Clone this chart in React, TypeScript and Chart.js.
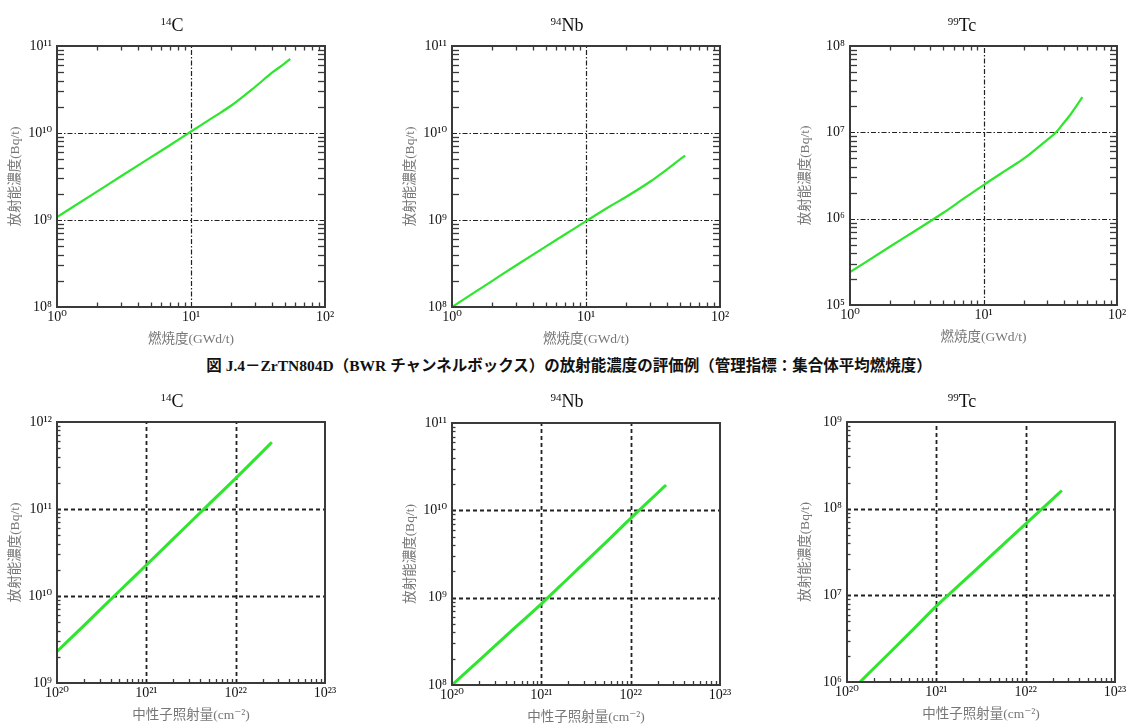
import React, { useEffect, useRef } from 'react';
import { Chart, registerables } from 'chart.js';

Chart.register(...registerables);

// ---------------- data ----------------
// top row: burnup (GWd/t)
const burnup = [1, 2, 3, 5, 7, 10, 15, 20, 30, 40, 50, 55];
const c14ByBurnup = [1.08e9, 2.13e9, 3.18e9, 5.24e9, 7.28e9, 1.04e10, 1.55e10, 2.07e10, 3.38e10, 4.9e10, 6.3e10, 7.1e10];
const nb94ByBurnup = [1.0e8, 2.0e8, 3.0e8, 4.95e8, 6.85e8, 9.7e8, 1.43e9, 1.85e9, 2.75e9, 3.8e9, 4.95e9, 5.5e9];
const burnupTc = [1, 2, 3, 5, 7, 10, 15, 20, 30, 35, 40, 45, 50, 55];
const tc99ByBurnup = [2.4e5, 4.76e5, 7.06e5, 1.17e6, 1.68e6, 2.45e6, 3.7e6, 4.95e6, 8.2e6, 1.0e7, 1.29e7, 1.62e7, 2.05e7, 2.55e7];

// bottom row: neutron fluence (cm^-2)
const fluenceC14 = [1e20, 2e20, 5e20, 1e21, 2e21, 5e21, 1e22, 2e22, 2.54e22];
const c14ByFluence = [2.3e9, 4.57e9, 1.14e10, 2.27e10, 4.53e10, 1.13e11, 2.25e11, 4.57e11, 5.85e11];
const fluenceNb = [1e20, 2e20, 5e20, 1e21, 2e21, 5e21, 1e22, 2e22, 2.49e22];
const nb94ByFluence = [1.0e8, 1.9e8, 4.47e8, 8.5e8, 1.67e9, 4.07e9, 8.1e9, 1.58e10, 1.95e10];
const fluenceTc = [1.4e20, 2e20, 5e20, 1e21, 2e21, 5e21, 1e22, 2e22, 2.54e22];
const tc99ByFluence = [1.0e6, 1.44e6, 3.66e6, 7.5e6, 1.45e7, 3.46e7, 6.68e7, 1.29e8, 1.62e8];

// ticks
const burnupTicks = [1, 10, 100];
const burnupTickLabels = ['10⁰', '10¹', '10²'];
const fluenceTicks = [1e20, 1e21, 1e22, 1e23];
const fluenceTickLabels = ['10²⁰', '10²¹', '10²²', '10²³'];
const yTicks8to11 = [1e8, 1e9, 1e10, 1e11];
const yLabels8to11 = ['10⁸', '10⁹', '10¹⁰', '10¹¹'];
const yTicks5to8 = [1e5, 1e6, 1e7, 1e8];
const yLabels5to8 = ['10⁵', '10⁶', '10⁷', '10⁸'];
const yTicks9to12 = [1e9, 1e10, 1e11, 1e12];
const yLabels9to12 = ['10⁹', '10¹⁰', '10¹¹', '10¹²'];
const yTicks6to9 = [1e6, 1e7, 1e8, 1e9];
const yLabels6to9 = ['10⁶', '10⁷', '10⁸', '10⁹'];

// texts
const yAxisTitle = '放射能濃度(Bq/t)';
const xAxisTitleBurnup = '燃焼度(GWd/t)';
const xAxisTitleFluence = '中性子照射量(cm⁻²)';
const caption = '図 J.4－ZrTN804D（BWR チャンネルボックス）の放射能濃度の評価例（管理指標：集合体平均燃焼度）';

type PanelDef = {
  iso: string; el: string;
  xs: number[]; ys: number[];
  xTicks: number[]; xLabels: string[];
  yTicks: number[]; yLabels: string[];
  xTitle: string; topRow: boolean;
};

const panels: PanelDef[] = [
  { iso: '14', el: 'C', xs: burnup, ys: c14ByBurnup, xTicks: burnupTicks, xLabels: burnupTickLabels, yTicks: yTicks8to11, yLabels: yLabels8to11, xTitle: xAxisTitleBurnup, topRow: true },
  { iso: '94', el: 'Nb', xs: burnup, ys: nb94ByBurnup, xTicks: burnupTicks, xLabels: burnupTickLabels, yTicks: yTicks8to11, yLabels: yLabels8to11, xTitle: xAxisTitleBurnup, topRow: true },
  { iso: '99', el: 'Tc', xs: burnupTc, ys: tc99ByBurnup, xTicks: burnupTicks, xLabels: burnupTickLabels, yTicks: yTicks5to8, yLabels: yLabels5to8, xTitle: xAxisTitleBurnup, topRow: true },
  { iso: '14', el: 'C', xs: fluenceC14, ys: c14ByFluence, xTicks: fluenceTicks, xLabels: fluenceTickLabels, yTicks: yTicks9to12, yLabels: yLabels9to12, xTitle: xAxisTitleFluence, topRow: false },
  { iso: '94', el: 'Nb', xs: fluenceNb, ys: nb94ByFluence, xTicks: fluenceTicks, xLabels: fluenceTickLabels, yTicks: yTicks8to11, yLabels: yLabels8to11, xTitle: xAxisTitleFluence, topRow: false },
  { iso: '99', el: 'Tc', xs: fluenceTc, ys: tc99ByFluence, xTicks: fluenceTicks, xLabels: fluenceTickLabels, yTicks: yTicks6to9, yLabels: yLabels6to9, xTitle: xAxisTitleFluence, topRow: false },
];

// ---------------- layout (page pixels) ----------------
const plotBoxes = [
  { l: 57, t: 46, r: 325, b: 307, padR: 22, yTitlePad: 7.2, titleX: 172, titleY: 21 },
  { l: 452, t: 46, r: 720, b: 307, padR: 22, yTitlePad: 7.2, titleX: 567, titleY: 21 },
  { l: 850, t: 46, r: 1117, b: 305, padR: 12, yTitlePad: 4.2, titleX: 962, titleY: 21 },
  { l: 57, t: 422, r: 325, b: 683, padR: 22, yTitlePad: 7.2, titleX: 172, titleY: 397 },
  { l: 452, t: 423, r: 720, b: 685, padR: 22, yTitlePad: 7.2, titleX: 567, titleY: 397 },
  { l: 847, t: 422, r: 1115, b: 682, padR: 22, yTitlePad: 7.2, titleX: 962, titleY: 397 },
];
const Y_AXIS_W = 57;
const X_AXIS_H = 42;
const PAD_TOP = 20;

const SERIF = "'Liberation Serif', 'DejaVu Serif', 'Noto Sans CJK JP', serif";

const framePlugin = {
  id: 'frame',
  beforeDatasetsDraw(chart: any, _args: any, opts: any) {
    const { ctx, chartArea: a, scales } = chart;
    const x = scales.x, y = scales.y;
    ctx.save();
    ctx.strokeStyle = opts.gridColor;
    ctx.lineWidth = opts.gridWidth;
    ctx.setLineDash(opts.gridDash);
    for (const v of opts.xGrid) {
      const px = Math.round(x.getPixelForValue(v)) + 0.5;
      ctx.beginPath(); ctx.moveTo(px, a.bottom); ctx.lineTo(px, a.top); ctx.stroke();
    }
    for (const v of opts.yGrid) {
      const py = Math.round(y.getPixelForValue(v)) + 0.5;
      ctx.beginPath(); ctx.moveTo(a.left, py); ctx.lineTo(a.right, py); ctx.stroke();
    }
    ctx.restore();
  },
  afterDatasetsDraw(chart: any, _args: any, opts: any) {
    const { ctx, chartArea: a, scales } = chart;
    const x = scales.x, y = scales.y;
    ctx.save();
    ctx.setLineDash([]);
    ctx.strokeStyle = opts.frameColor;
    ctx.lineWidth = 1.3;
    const minors = (scale: any) => {
      const out: number[] = [];
      const d0 = Math.round(Math.log10(scale.min));
      const d1 = Math.round(Math.log10(scale.max));
      for (let d = d0; d < d1; d++) for (let k = 2; k <= 9; k++) out.push(k * Math.pow(10, d));
      return out;
    };
    for (const v of minors(x)) {
      const px = Math.round(x.getPixelForValue(v)) + 0.5;
      ctx.beginPath(); ctx.moveTo(px, a.bottom); ctx.lineTo(px, a.bottom - opts.xLen); ctx.stroke();
      if (opts.mirror) { ctx.beginPath(); ctx.moveTo(px, a.top); ctx.lineTo(px, a.top + opts.xLen); ctx.stroke(); }
    }
    for (const v of minors(y)) {
      const py = Math.round(y.getPixelForValue(v)) + 0.5;
      ctx.beginPath(); ctx.moveTo(a.left, py); ctx.lineTo(a.left + opts.yLen, py); ctx.stroke();
      if (opts.mirror) { ctx.beginPath(); ctx.moveTo(a.right, py); ctx.lineTo(a.right - opts.yLen, py); ctx.stroke(); }
    }
    ctx.lineWidth = 2;
    ctx.strokeRect(a.left, a.top, a.right - a.left, a.bottom - a.top);
    ctx.restore();
  },
};

function Panel({ def, box }: { def: PanelDef; box: typeof plotBoxes[number] }) {
  const ref = useRef<HTMLCanvasElement>(null);
  const L = box.l - Y_AXIS_W;
  const T = box.t - PAD_TOP;
  const W = box.r + box.padR - L;
  const H = box.b + X_AXIS_H - T;

  useEffect(() => {
    const innerX = def.xTicks.slice(1, -1);
    const innerY = def.yTicks.slice(1, -1);
    const chart = new Chart(ref.current as HTMLCanvasElement, {
      type: 'line',
      data: {
        datasets: [{
          data: def.xs.map((v, i) => ({ x: v, y: def.ys[i] })),
          borderColor: '#2ee62e',
          borderWidth: def.topRow ? 2.2 : 3,
          pointRadius: 0,
          cubicInterpolationMode: 'monotone',
          fill: false,
        }],
      },
      options: {
        responsive: false,
        animation: false,
        events: [],
        layout: { padding: { top: PAD_TOP, right: box.padR, left: 0, bottom: 0 } },
        plugins: {
          legend: { display: false },
          tooltip: { enabled: false },
          title: { display: false },
          frame: {
            mirror: def.topRow,
            xLen: def.topRow ? 4.5 : 4,
            yLen: def.topRow ? 7 : 3.5,
            xGrid: innerX,
            yGrid: innerY,
            gridDash: def.topRow ? [5, 2, 1.5, 2] : [4, 3],
            gridWidth: def.topRow ? 1.2 : 1.8,
            gridColor: '#222',
            frameColor: '#3a3a3a',
          },
        } as any,
        scales: {
          x: {
            type: 'logarithmic',
            min: def.xTicks[0],
            max: def.xTicks[def.xTicks.length - 1],
            grid: { display: false, drawTicks: false },
            border: { display: false },
            afterBuildTicks: (s: any) => { s.ticks = def.xTicks.map((v) => ({ value: v })); },
            afterFit: (s: any) => { s.height = X_AXIS_H; },
            ticks: {
              autoSkip: false, maxRotation: 0, padding: 2,
              color: '#111', font: { family: SERIF, size: 14 },
              callback: (_v: any, i: number) => def.xLabels[i],
            },
            title: {
              display: true, text: def.xTitle, color: '#777',
              font: { family: SERIF, size: 13.5 },
              padding: { top: 0, bottom: 1 },
            },
          },
          y: {
            type: 'logarithmic',
            min: def.yTicks[0],
            max: def.yTicks[def.yTicks.length - 1],
            grid: { display: false, drawTicks: false },
            border: { display: false },
            afterBuildTicks: (s: any) => { s.ticks = def.yTicks.map((v) => ({ value: v })); },
            afterFit: (s: any) => { s.width = Y_AXIS_W; },
            ticks: {
              autoSkip: false, padding: 5,
              color: '#111', font: { family: SERIF, size: 14 },
              callback: (_v: any, i: number) => def.yLabels[i],
            },
            title: {
              display: true, text: yAxisTitle, color: '#777',
              font: { family: SERIF, size: 13.5 },
              padding: { top: box.yTitlePad, bottom: 0 },
            },
          },
        },
      },
      plugins: [framePlugin as any],
    } as any);
    return () => chart.destroy();
  }, []);

  return (
    <>
      <div style={{ position: 'absolute', left: L, top: T, width: W, height: H }}>
        <canvas ref={ref} width={W} height={H} style={{ display: 'block' }} />
      </div>
      <div style={{
        position: 'absolute', left: box.titleX - 60, top: box.titleY - 11, width: 120, height: 22,
        lineHeight: '22px', textAlign: 'center', fontFamily: SERIF, fontSize: 18, color: '#111',
      }}>
        <sup style={{ fontSize: 11, verticalAlign: 6 }}>{def.iso}</sup>{def.el}
      </div>
    </>
  );
}

export default function App() {
  return (
    <div style={{ position: 'absolute', left: 0, top: 0, width: 1126, height: 724, overflow: 'hidden', background: '#fff' }}>
      {panels.map((p, i) => <Panel key={i} def={p} box={plotBoxes[i]} />)}
      <div style={{
        position: 'absolute', left: 4, top: 355, width: 1130, height: 22, lineHeight: '22px',
        textAlign: 'center', fontFamily: "'Liberation Serif', 'Noto Sans CJK JP', serif",
        fontWeight: 'bold', fontSize: 15.5, color: '#111', whiteSpace: 'nowrap',
      }}>{caption}</div>
    </div>
  );
}
